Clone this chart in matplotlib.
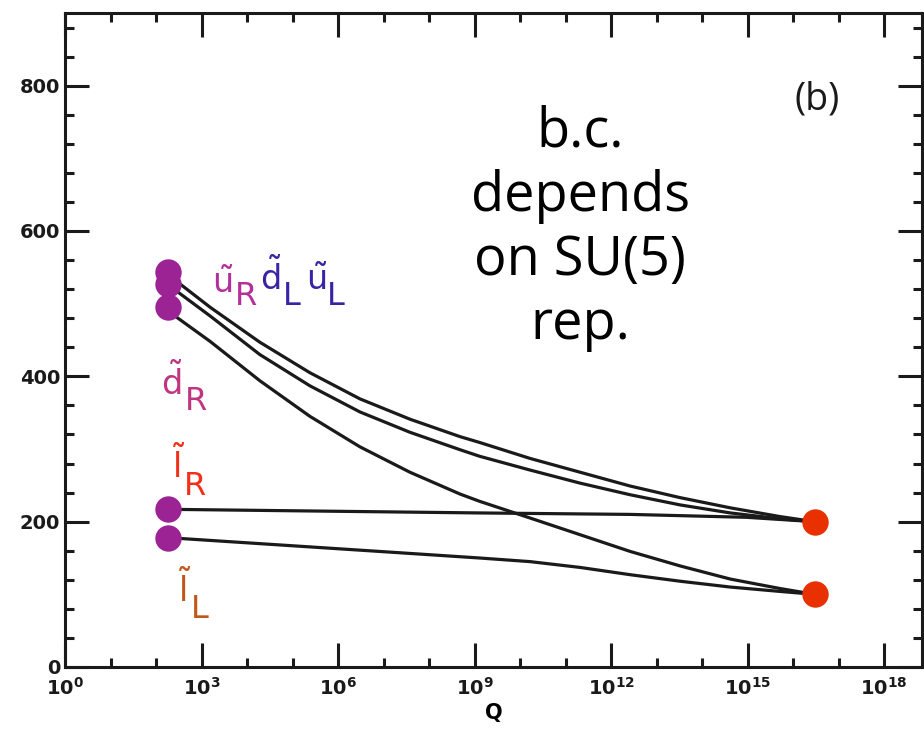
import numpy as np
import matplotlib
matplotlib.use('Agg')
import matplotlib.pyplot as plt
from matplotlib.ticker import FixedLocator, FuncFormatter, NullFormatter

plt.rcParams.update({'mathtext.fontset': 'dejavusans', 'axes.axisbelow': True})

# running masses (exponent of Q, mass)
q_low_exp = 2.26
q_gut_exp = 16.47

curve_a_exp = [2.26, 2.53, 3.19, 4.28, 5.38, 6.48, 7.58, 8.68, 9.11, 10.22, 11.32, 12.42, 13.52, 14.62, 15.71, 16.47]
curve_a_val = [543, 527, 495, 447, 405, 369, 341, 317, 309, 287, 268, 249, 233, 219, 207, 200]

curve_b_exp = [2.26, 2.48, 3.19, 4.28, 5.38, 6.48, 7.58, 8.68, 9.11, 10.22, 11.32, 12.42, 13.52, 14.62, 15.71, 16.47]
curve_b_val = [527, 516, 483, 430, 387, 351, 323, 299, 290, 271, 253, 237, 223, 212, 204, 200]

curve_c_exp = [2.26, 2.46, 3.19, 4.28, 5.38, 6.48, 7.58, 8.68, 9.11, 10.22, 11.32, 12.42, 13.52, 14.62, 15.71, 16.47]
curve_c_val = [495, 481, 448, 394, 345, 303, 268, 238, 228, 205, 182, 159, 139, 121, 108, 100]

lr_exp = [2.26, 9.11, 12.42, 14.97, 16.47]
lr_val = [217, 212, 210, 206, 200]

ll_exp = [2.26, 6.92, 9.11, 10.22, 11.32, 12.42, 13.52, 14.62, 15.71, 16.47]
ll_val = [178, 159, 150, 145, 137, 127, 118, 110, 104, 100]

low_scale_vals = [543, 527, 495, 217, 178]
gut_vals = [200, 100]

# labels: (base, subscript, colour)
labels = [
    (r'$\tilde{\mathrm{u}}$', 'R', '#b3309a'),
    (r'$\tilde{\mathrm{d}}$', 'L', '#3a24a4'),
    (r'$\tilde{\mathrm{u}}$', 'L', '#3a24a4'),
    (r'$\tilde{\mathrm{d}}$', 'R', '#c0357f'),
    (r'$\tilde{\mathrm{l}}$', 'R', '#f0301a'),
    (r'$\tilde{\mathrm{l}}$', 'L', '#c0581c'),
]
# (base x, base y, sub x, sub y) in axes fraction
label_pos = [
    (0.172, 0.572, 0.198, 0.553),
    (0.228, 0.576, 0.254, 0.553),
    (0.281, 0.576, 0.306, 0.553),
    (0.112, 0.416, 0.140, 0.393),
    (0.125, 0.289, 0.139, 0.263),
    (0.132, 0.099, 0.147, 0.075),
]

fig = plt.figure(figsize=(9.24, 7.32), dpi=100)
ax = fig.add_axes([65 / 924, 65 / 732, 857 / 924, 654 / 732])

for xs, ys in [(curve_a_exp, curve_a_val), (curve_b_exp, curve_b_val),
               (curve_c_exp, curve_c_val), (lr_exp, lr_val), (ll_exp, ll_val)]:
    ax.plot(10.0 ** np.array(xs), ys, color='#1a1a1a', lw=2.3, zorder=2,
            solid_joinstyle='round')

ax.plot(np.full(len(low_scale_vals), 10.0 ** q_low_exp), low_scale_vals, 'o',
        color='#9b2394', ms=19, mec='none', zorder=3)
ax.plot(np.full(len(gut_vals), 10.0 ** q_gut_exp), gut_vals, 'o',
        color='#e83000', ms=19, mec='none', zorder=3)

ax.set_xscale('log')
ax.set_xlim(1, 10 ** 18.83)
ax.set_ylim(0, 900)

ax.xaxis.set_major_locator(FixedLocator([10.0 ** e for e in range(0, 19, 3)]))
ax.xaxis.set_minor_locator(FixedLocator([10.0 ** e for e in range(0, 19) if e % 3]))
ax.xaxis.set_major_formatter(FuncFormatter(lambda v, _: r'$\mathbf{10^{%d}}$' % round(np.log10(v))))
ax.xaxis.set_minor_formatter(NullFormatter())
ax.set_yticks(range(0, 801, 200))
ax.yaxis.set_minor_locator(FixedLocator(range(0, 901, 40)))

ax.tick_params(which='both', direction='in', top=True, right=True, width=2.2, colors='#1a1a1a')
ax.tick_params(which='major', length=17, labelsize=14)
ax.tick_params(which='minor', length=6.5)
ax.tick_params(axis='x', which='major', pad=7)
for lab in ax.get_yticklabels():
    lab.set_fontweight('bold')
for sp in ax.spines.values():
    sp.set_linewidth(2.2)
    sp.set_color('#1a1a1a')

ax.set_xlabel('Q', fontsize=15, fontweight='bold', labelpad=3)

for (base, sub, col), (bx, by, sx, sy) in zip(labels, label_pos):
    ax.text(bx, by, base, transform=ax.transAxes, color=col, fontsize=24,
            ha='left', va='baseline')
    ax.text(sx, sy, sub, transform=ax.transAxes, color=col, fontsize=23,
            ha='left', va='baseline', family='DejaVu Sans')

ax.text(0.601, 0.671, 'b.c.\ndepends\non SU(5)\nrep.', transform=ax.transAxes,
        ha='center', va='center', fontsize=39, family='Open Sans',
        linespacing=1.22, color='black')
ax.text(0.878, 0.867, '(b)', transform=ax.transAxes, ha='center', va='center',
        fontsize=27, family='Open Sans', color='#1a1a1a')

fig.savefig('out.png', dpi=100)
